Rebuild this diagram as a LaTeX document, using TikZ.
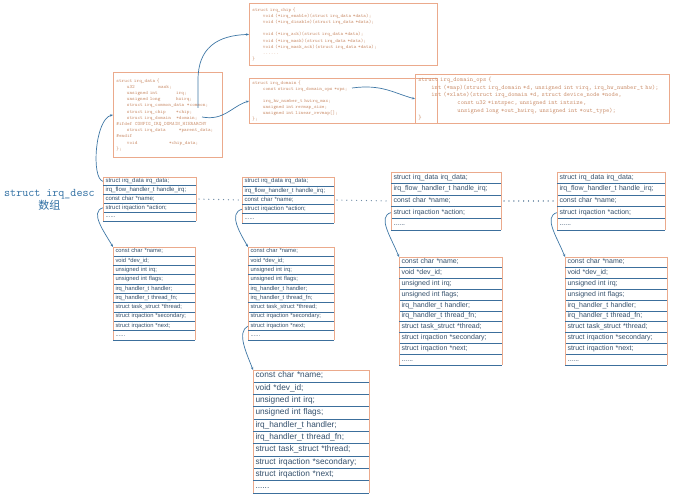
\documentclass[tikz,border=0pt]{standalone}
\usepackage{fontspec}
\setsansfont{Liberation Sans}
\newfontfamily\cjk{Noto Sans CJK SC}
\usetikzlibrary{arrows.meta, positioning, calc}

\definecolor{frameorange}{HTML}{EBAA8C}
\definecolor{sepblue}{HTML}{3C6F9C}
\definecolor{linkblue}{HTML}{4078A6}
\definecolor{tabletext}{HTML}{34506C}
\definecolor{codetext}{HTML}{CC9270}
\definecolor{titleblue}{HTML}{2F6FA3}
\definecolor{dotgray}{HTML}{6F8CA6}

% fixed-width indent in the code boxes
\newcommand{\tsp}[1]{\hspace*{#1\dimexpr0.525em\relax}}
\newcommand{\sixdots}{......}

\newcommand{\descfields}{struct irq\_data irq\_data;, irq\_flow\_handler\_t handle\_irq;,
  const char *name;, struct irqaction *action;, \sixdots}
\newcommand{\actionfields}{const char *name;, void *dev\_id;, unsigned int irq;,
  unsigned int flags;, irq\_handler\_t handler;, irq\_handler\_t thread\_fn;,
  struct task\_struct *thread;, struct irqaction *secondary;,
  struct irqaction *next;, \sixdots}

% name, top-left, text width, row height, font size, fields
\newcommand{\fieldtable}[6]{%
  \foreach \txt [count=\i, remember=\i as \j (initially 0)] in #6 {
    \ifnum\i=1
      \node[fieldrow, text width=#3pt, minimum height=#4pt,
            font=\sffamily\fontsize{#5}{#5}\selectfont] (#1-\i) at (#2) {\strut\txt};
    \else
      \node[fieldrow, text width=#3pt, minimum height=#4pt,
            font=\sffamily\fontsize{#5}{#5}\selectfont] (#1-\i) at (#1-\j.south west) {\strut\txt};
    \fi
    \draw[tableedge] (#1-\i.north west) -- (#1-\i.south west)
                     (#1-\i.north east) -- (#1-\i.south east);
    \draw[tablesep] (#1-\i.south west) -- (#1-\i.south east);
  }
  \draw[tableedge] (#1-1.north west) -- (#1-1.north east);
}

\begin{document}
\begin{tikzpicture}[x=1pt, y=-1pt,
  fieldrow/.style={anchor=north west, align=left, inner xsep=2.5pt, inner ysep=0pt,
                   outer sep=0pt, text=tabletext},
  tableedge/.style={draw=frameorange, line width=0.8pt},
  tablesep/.style={draw=sepblue, line width=0.9pt},
  codebox/.style={draw=frameorange, line width=0.8pt, anchor=north west, align=left,
                  inner xsep=3pt, inner ysep=2pt, text=codetext},
  link/.style={draw=linkblue, line width=0.7pt, -{Stealth[length=3pt, width=2.4pt]}},
  dotlink/.style={draw=dotgray, line width=1.2pt, dash pattern=on 0.1pt off 4.8pt,
                  line cap=round, shorten <=3pt, shorten >=3pt}
]
  \fill[white] (0,0) rectangle (673,500);
  \useasboundingbox (0,0) rectangle (673,500);

  % code boxes
  \node[codebox, text width=182pt, minimum height=62pt,
        font=\ttfamily\fontsize{5}{6.2}\selectfont\color{codetext}] (chip) at (249,3)
    {struct irq\_chip \{\\
     \tsp{4}void (*irq\_enable)(struct irq\_data *data);\\
     \tsp{4}void (*irq\_disable)(struct irq\_data *data);\\
     \mbox{}\\
     \tsp{4}void (*irq\_ack)(struct irq\_data *data);\\
     \tsp{4}void (*irq\_mask)(struct irq\_data *data);\\
     \tsp{4}void (*irq\_mask\_ack)(struct irq\_data *data);\\
     \tsp{4}......\\
     \}};
  \node[codebox, text width=103pt, minimum height=85pt,
        font=\ttfamily\fontsize{5}{6.2}\selectfont\color{codetext}] (irqdata) at (113,72)
    {struct irq\_data \{\\
     \tsp{4}u32\tsp{9}mask;\\
     \tsp{4}unsigned int\tsp{7}irq;\\
     \tsp{4}unsigned long\tsp{6}hwirq;\\
     \tsp{4}struct irq\_common\_data\tsp{1}*common;\\
     \tsp{4}struct irq\_chip\tsp{4}*chip;\\
     \tsp{4}struct irq\_domain\tsp{2}*domain;\\
     \#ifdef\tsp{1}CONFIG\_IRQ\_DOMAIN\_HIERARCHY\\
     \tsp{4}struct irq\_data\tsp{5}*parent\_data;\\
     \#endif\\
     \tsp{4}void\tsp{12}*chip\_data;\\
     \};};
  \node[codebox, text width=182pt, minimum height=45pt,
        font=\ttfamily\fontsize{5}{6}\selectfont\color{codetext}] (domain) at (249,78)
    {struct irq\_domain \{\\
     \tsp{4}const struct irq\_domain\_ops *ops;\\
     \mbox{}\\
     \tsp{4}irq\_hw\_number\_t hwirq\_max;\\
     \tsp{4}unsigned int revmap\_size;\\
     \tsp{4}unsigned int linear\_revmap[];\\
     \};};
  \node[codebox, text width=248pt, minimum height=49pt,
        font=\ttfamily\fontsize{6.2}{7.6}\selectfont\color{codetext}] (ops) at (415,74)
    {struct irq\_domain\_ops \{\\
     \tsp{4}int (*map)(struct irq\_domain *d, unsigned int virq, irq\_hw\_number\_t hw);\\
     \tsp{4}int (*xlate)(struct irq\_domain *d, struct device\_node *node,\\
     \tsp{12}const u32 *intspec, unsigned int intsize,\\
     \tsp{12}unsigned long *out\_hwirq, unsigned int *out\_type);\\
     \}};

  \coordinate (chipfield)   at (198,108);
  \coordinate (domainfield) at (202,117);
  \coordinate (opsfield)    at (352,88);

  % irq_desc array
  \node[font=\ttfamily\fontsize{11.7}{14}\selectfont, text=titleblue, anchor=west,
        inner sep=1pt] (desclabel) at (3,194) {struct irq\_desc};
  \node[font=\cjk\fontsize{11}{13}\selectfont, text=titleblue, inner sep=1pt,
        below=-1pt of desclabel] (desccjk) {数组};

  \fieldtable{descA}{103,177}{88}{8.8}{6}{\descfields}
  \fieldtable{descB}{242,177}{87}{9.2}{6}{\descfields}
  \fieldtable{descC}{391,172}{105}{11.6}{7}{\descfields}
  \fieldtable{descD}{557,172}{103}{11.6}{7}{\descfields}

  % irqaction lists
  \fieldtable{actA}{113,247}{77}{9.3}{5.8}{\actionfields}
  \fieldtable{actB}{248,247}{81}{9.3}{5.8}{\actionfields}
  \fieldtable{actC}{399,257}{98}{10.8}{7}{\actionfields}
  \fieldtable{actD}{565,257}{97}{10.8}{7}{\actionfields}
  \fieldtable{actE}{253,370}{111}{12.3}{8.3}{\actionfields}

  \draw[dotlink] (descA-3.east) -- (descB-3.west);
  \draw[dotlink] (descB-3.east) -- (descC-3.west);
  \draw[dotlink] (descC-3.east) -- (descD-3.west);

  \draw[link] (descA-1.west) .. controls +(-12,-3) and +(-18,4) .. (irqdata.west);
  \draw[link] (chipfield) -- ++(0,-28) .. controls +(0,-32) and +(-32,1) .. (chip.west);
  \draw[link] (domainfield) .. controls +(22,4) and +(-18,6) .. (domain.west);
  \draw[link] (opsfield) .. controls +(30,-4) and +(-22,-6) .. (ops.west);

  \draw[link] (descA-4.west) .. controls +(-14,4) and +(-8,-14) .. (actA-1.north west);
  \draw[link] (descB-4.west) .. controls +(-14,4) and +(-8,-14) .. (actB-1.north west);
  \draw[link] (descC-4.west) .. controls +(-14,4) and +(-8,-20) .. (actC-1.north west);
  \draw[link] (descD-4.west) .. controls +(-14,4) and +(-8,-20) .. (actD-1.north west);
  \draw[link] (actB-9.west) .. controls +(-12,6) and +(-6,-16) .. (actE-1.north west);
\end{tikzpicture}
\end{document}
